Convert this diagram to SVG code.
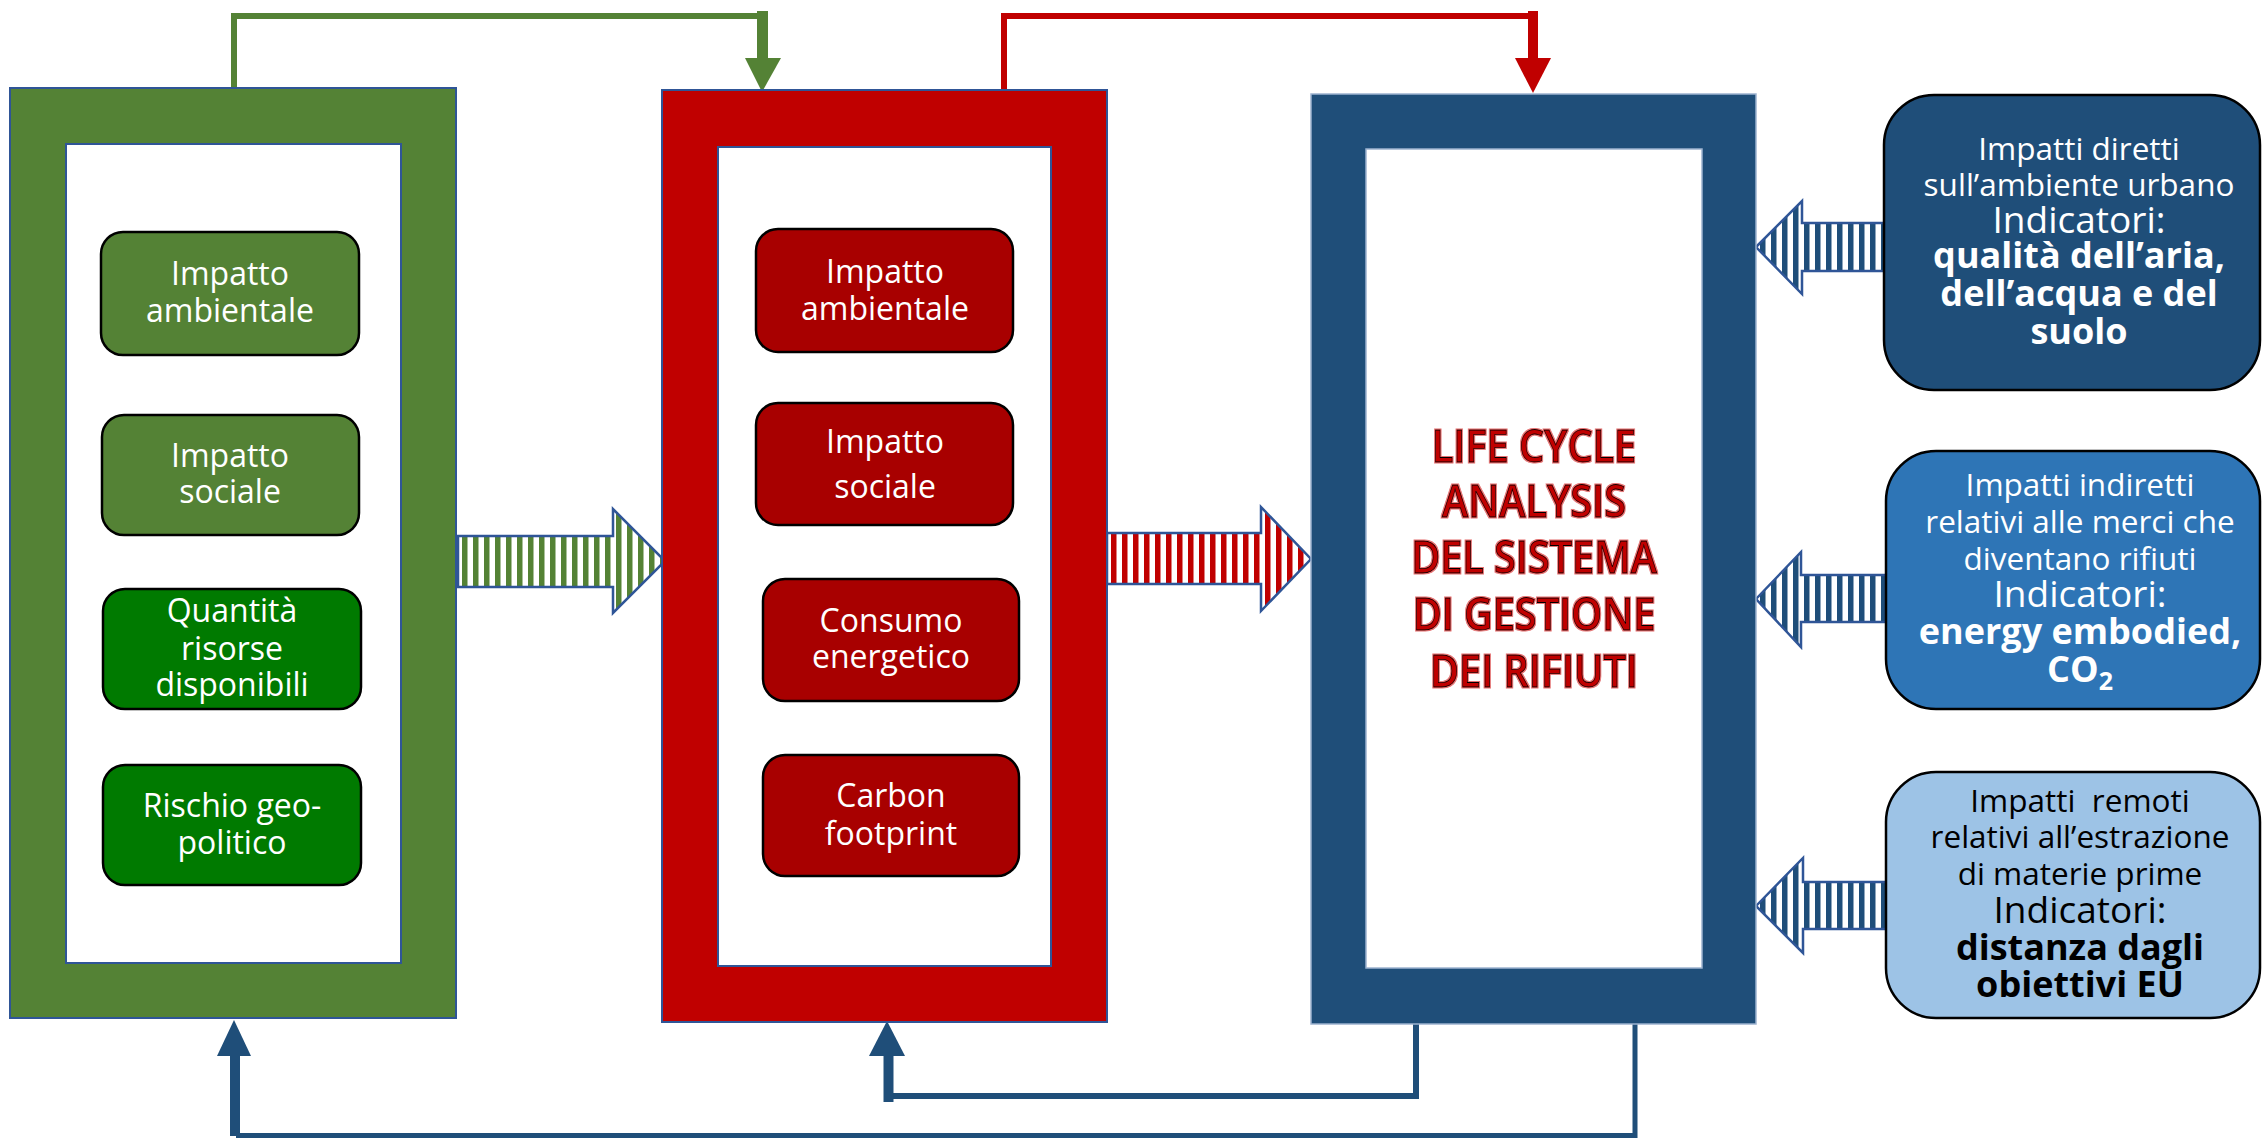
<svg xmlns="http://www.w3.org/2000/svg" width="2262" height="1138" viewBox="0 0 2262 1138">
  <style>
    .txt { font-family: "Open Sans", "Noto Sans", "DejaVu Sans", sans-serif; text-anchor: middle; }
    .box-t { font-size: 32px; fill: #ffffff; }
    .frame-line { stroke: #2F5597; stroke-width: 2; }
    .inner { fill: #ffffff; stroke: #2F5597; stroke-width: 2; }
    .sbox { stroke: #000000; stroke-width: 2.5; }
    .ibox { stroke: #000000; stroke-width: 2.5; }
    .ind-reg { font-size: 31.5px; }
    .ind-big { font-size: 37px; }
    .ind-bold { font-size: 36px; font-weight: 700; }
    .lca { font-size: 45px; font-weight: 600; fill: #C00000; stroke: #000000; stroke-width: 0.8; }
    .blk { stroke: #2F5597; stroke-width: 2.5; stroke-linejoin: miter; }
    .c-green { fill: none; stroke: #548235; }
    .c-red { fill: none; stroke: #C00000; }
    .c-blue { fill: none; stroke: #1F4E79; }
  </style>
  <defs>
    <pattern id="stripe-green" patternUnits="userSpaceOnUse" width="11" height="20">
      <rect width="11" height="20" fill="#ffffff"/>
      <rect width="5.5" height="20" fill="#548235"/>
    </pattern>
    <pattern id="stripe-red" patternUnits="userSpaceOnUse" width="11" height="20">
      <rect width="11" height="20" fill="#ffffff"/>
      <rect width="5.5" height="20" fill="#C00000"/>
    </pattern>
    <pattern id="stripe-blue" patternUnits="userSpaceOnUse" width="11" height="20">
      <rect width="11" height="20" fill="#ffffff"/>
      <rect width="5.5" height="20" fill="#1F4E79"/>
    </pattern>
    <filter id="red-rim" x="-5%" y="-20%" width="110%" height="140%">
      <feMorphology in="SourceAlpha" operator="dilate" radius="1.2" result="grown"/>
      <feFlood flood-color="#D01010" flood-opacity="0.6"/>
      <feComposite in2="grown" operator="in" result="rim"/>
      <feMerge>
        <feMergeNode in="rim"/>
        <feMergeNode in="SourceGraphic"/>
      </feMerge>
    </filter>
  </defs>

  <rect width="2262" height="1138" fill="#ffffff"/>

  <!-- connectors: elbow lines and striped block arrows -->
  <g id="connectors">
    <!-- green frame -> red frame (top) -->
    <path class="c-green" stroke-width="6" d="M234,88 V16 H758"/>
    <path class="c-green" stroke-width="11" d="M762.5,11 V60"/>
    <polygon fill="#548235" points="745,58 781,58 762,92"/>
    <!-- red frame -> blue frame (top) -->
    <path class="c-red" stroke-width="6" d="M1004,90 V16 H1529"/>
    <path class="c-red" stroke-width="10" d="M1533,11 V60"/>
    <polygon fill="#C00000" points="1515,58 1551,58 1533,93"/>
    <!-- blue frame -> red frame (bottom) -->
    <path class="c-blue" stroke-width="6" d="M1416,1024 V1096 H889"/>
    <path class="c-blue" stroke-width="10" d="M888.5,1102 V1052"/>
    <polygon fill="#1F4E79" points="869,1056 905,1056 887,1021"/>
    <!-- blue frame -> green frame (bottom) -->
    <path class="c-blue" stroke-width="5" d="M1635,1024 V1135.5 H236"/>
    <path class="c-blue" stroke-width="10" d="M235,1136 V1052"/>
    <polygon fill="#1F4E79" points="217,1056 251,1056 234,1020"/>

    <!-- striped block arrows -->
    <polygon class="blk" fill="url(#stripe-green)" points="458,536 613,536 613,509 665,561 613,613 613,587 458,587"/>
    <polygon class="blk" fill="url(#stripe-red)" points="1107,533 1261,533 1261,507 1311,559 1261,611 1261,584 1107,584"/>
    <polygon class="blk" fill="url(#stripe-blue)" points="1756,247 1802,201 1802,223 1886,223 1886,271 1802,271 1802,294"/>
    <polygon class="blk" fill="url(#stripe-blue)" points="1756,599 1801,552 1801,575 1886,575 1886,622 1801,622 1801,647"/>
    <polygon class="blk" fill="url(#stripe-blue)" points="1756,906 1803,858 1803,882 1887,882 1887,929 1803,929 1803,953"/>
  </g>

  <!-- green frame with its four boxes -->
  <g id="frame-green">
    <rect class="frame-line" x="10" y="88" width="446" height="930" fill="#548235"/>
    <rect class="inner" x="66" y="144" width="335" height="819"/>
  </g>
  <g id="g-impatto-ambientale">
    <rect class="sbox" x="101" y="232" width="258" height="123" rx="22" fill="#548235"/>
    <text class="txt box-t" x="230" y="285">Impatto</text>
    <text class="txt box-t" x="230" y="322">ambientale</text>
  </g>
  <g id="g-impatto-sociale">
    <rect class="sbox" x="102" y="415" width="257" height="120" rx="22" fill="#548235"/>
    <text class="txt box-t" x="230" y="467">Impatto</text>
    <text class="txt box-t" x="230" y="503">sociale</text>
  </g>
  <g id="g-quantita-risorse">
    <rect class="sbox" x="103" y="589" width="258" height="120" rx="22" fill="#007A00"/>
    <text class="txt box-t" x="232" y="622">Quantità</text>
    <text class="txt box-t" x="232" y="660">risorse</text>
    <text class="txt box-t" x="232" y="696">disponibili</text>
  </g>
  <g id="g-rischio">
    <rect class="sbox" x="103" y="765" width="258" height="120" rx="22" fill="#007A00"/>
    <text class="txt box-t" x="232" y="817">Rischio geo-</text>
    <text class="txt box-t" x="232" y="854">politico</text>
  </g>

  <!-- red frame with its four boxes -->
  <g id="frame-red">
    <rect class="frame-line" x="662" y="90" width="445" height="932" fill="#C00000"/>
    <rect class="inner" x="718" y="147" width="333" height="819"/>
  </g>
  <g id="r-impatto-ambientale">
    <rect class="sbox" x="756" y="229" width="257" height="123" rx="22" fill="#A80000"/>
    <text class="txt box-t" x="885" y="283">Impatto</text>
    <text class="txt box-t" x="885" y="320">ambientale</text>
  </g>
  <g id="r-impatto-sociale">
    <rect class="sbox" x="756" y="403" width="257" height="122" rx="22" fill="#A80000"/>
    <text class="txt box-t" x="885" y="453">Impatto</text>
    <text class="txt box-t" x="885" y="498">sociale</text>
  </g>
  <g id="r-consumo">
    <rect class="sbox" x="763" y="579" width="256" height="122" rx="22" fill="#A80000"/>
    <text class="txt box-t" x="891" y="632">Consumo</text>
    <text class="txt box-t" x="891" y="668">energetico</text>
  </g>
  <g id="r-carbon">
    <rect class="sbox" x="763" y="755" width="256" height="121" rx="22" fill="#A80000"/>
    <text class="txt box-t" x="891" y="807">Carbon</text>
    <text class="txt box-t" x="891" y="845">footprint</text>
  </g>

  <!-- central LCA frame -->
  <g id="frame-lca">
    <rect x="1311" y="94" width="445" height="930" fill="#1F4E79" stroke="#9DB3CF" stroke-width="1.5"/>
    <rect x="1366" y="149" width="336" height="819" fill="#ffffff" stroke="#9DB3CF" stroke-width="1.5"/>
    <g filter="url(#red-rim)">
      <g transform="translate(1534,0) scale(0.88,1)">
        <text class="txt lca" x="0" y="462">LIFE CYCLE</text>
        <text class="txt lca" x="0" y="517">ANALYSIS</text>
        <text class="txt lca" x="0" y="573">DEL SISTEMA</text>
        <text class="txt lca" x="0" y="630">DI GESTIONE</text>
        <text class="txt lca" x="0" y="687">DEI RIFIUTI</text>
      </g>
    </g>
  </g>

  <!-- indicator boxes on the right -->
  <g id="impatti-diretti">
    <rect class="ibox" x="1884" y="95" width="376" height="295" rx="50" fill="#1F4E79"/>
    <g class="txt" fill="#ffffff">
      <text class="ind-reg" x="2079" y="160">Impatti diretti</text>
      <text class="ind-reg" x="2079" y="196">sull’ambiente urbano</text>
      <text class="ind-big" x="2079" y="233">Indicatori:</text>
      <text class="ind-bold" x="2079" y="268">qualità dell’aria,</text>
      <text class="ind-bold" x="2079" y="306">dell’acqua e del</text>
      <text class="ind-bold" x="2079" y="344">suolo</text>
    </g>
  </g>
  <g id="impatti-indiretti">
    <rect class="ibox" x="1886" y="451" width="374" height="258" rx="50" fill="#2E75B6"/>
    <g class="txt" fill="#ffffff">
      <text class="ind-reg" x="2080" y="496">Impatti indiretti</text>
      <text class="ind-reg" x="2080" y="533">relativi alle merci che</text>
      <text class="ind-reg" x="2080" y="570">diventano rifiuti</text>
      <text class="ind-big" x="2080" y="607">Indicatori:</text>
      <text class="ind-bold" x="2080" y="644">energy embodied,</text>
      <text class="ind-bold" x="2080" y="682">CO<tspan font-size="25" dy="8">2</tspan></text>
    </g>
  </g>
  <g id="impatti-remoti">
    <rect class="ibox" x="1886" y="772" width="374" height="246" rx="50" fill="#9DC3E6"/>
    <g class="txt" fill="#000000">
      <text class="ind-reg" x="2080" y="812" xml:space="preserve">Impatti  remoti</text>
      <text class="ind-reg" x="2080" y="848">relativi all’estrazione</text>
      <text class="ind-reg" x="2080" y="885">di materie prime</text>
      <text class="ind-big" x="2080" y="923">Indicatori:</text>
      <text class="ind-bold" x="2080" y="960">distanza dagli</text>
      <text class="ind-bold" x="2080" y="997">obiettivi EU</text>
    </g>
  </g>
</svg>
